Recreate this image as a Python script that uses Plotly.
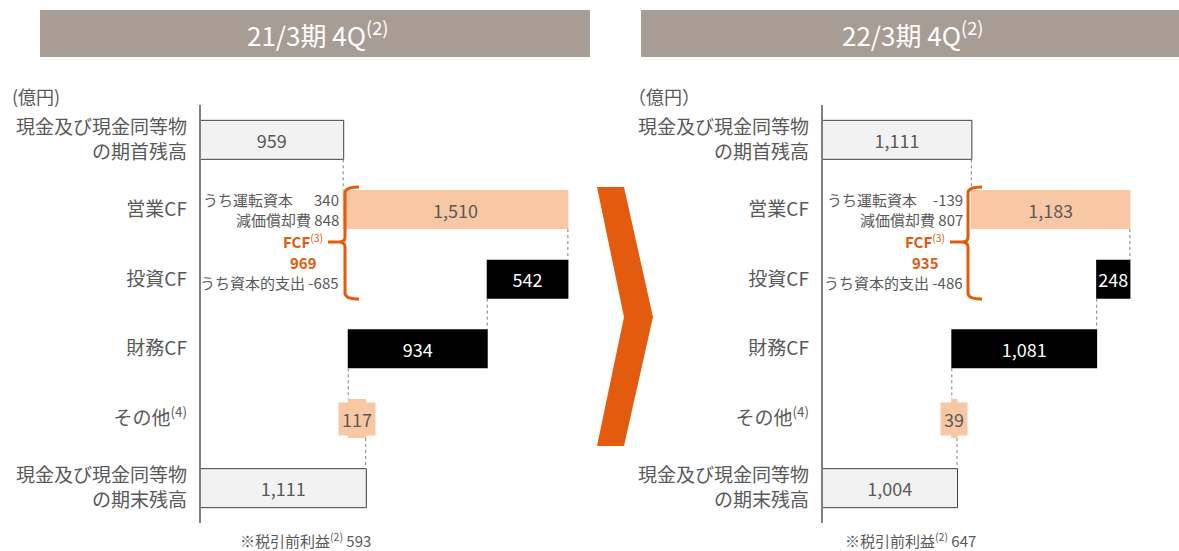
import plotly.graph_objects as go

# ---------------- data ----------------
categories = ["現金及び現金同等物<br>の期首残高", "営業CF", "投資CF", "財務CF",
              "その他<sup>(4)</sup>", "現金及び現金同等物<br>の期末残高"]
measures = ["absolute", "relative", "relative", "relative", "relative", "absolute"]
fy21_values = [959, 1510, -542, -934, 117, 1111]
fy22_values = [1111, 1183, -248, -1081, 39, 1004]
panel_titles = ["21/3期 4Q<sup>(2)</sup>", "22/3期 4Q<sup>(2)</sup>"]
unit_labels = ["(億円)", "（億円）"]
working_capital = [340, -139]
depreciation = [848, 807]
capex = [-685, -486]
fcf = [969, 935]
pretax_profit = [593, 647]

# ---------------- style ----------------
W, H = 1179, 551
FONT = "Noto Sans CJK JP, Noto Sans, sans-serif"
GRAY = "#595959"
PEACH = "#F8C8A4"
ORANGE = "#E35B0E"
HEADER = "#A89D95"


def PX(x):
    return x / W


def PY(y):
    return 1 - y / H


fig = go.Figure()
annos = []
shapes = []

panels = [
    dict(vals=fy21_values, xa="x", ya="y"),
    dict(vals=fy22_values, xa="x2", ya="y2"),
]

text_colors = [GRAY, GRAY, "white", "white", GRAY, GRAY]

for i, p in enumerate(panels):
    vals = p["vals"]
    labels = [f"{abs(v):,}" for v in vals]
    labels[4] = ""  # その他 label drawn as boxed annotation
    fig.add_trace(go.Waterfall(
        orientation="h", y=categories, x=vals, measure=measures,
        text=labels, textinfo="text", textposition="inside",
        insidetextanchor="middle", textangle=0, constraintext="none",
        insidetextfont=dict(color=text_colors, size=18, family=FONT),
        increasing=dict(marker=dict(color=PEACH, line=dict(width=0))),
        decreasing=dict(marker=dict(color="black", line=dict(width=0))),
        totals=dict(marker=dict(color="#F2F2F2", line=dict(color="#404040", width=1))),
        connector=dict(mode="between", line=dict(color="#7F7F7F", width=1, dash="dot")),
        xaxis=p["xa"], yaxis=p["ya"], hoverinfo="skip", showlegend=False,
    ))
    # boxed label for その他
    start = sum(vals[:4])
    annos.append(dict(
        x=start + vals[4] / 2, y=categories[4], xref=p["xa"], yref=p["ya"],
        xanchor="center", yanchor="middle",
        text=f"{vals[4]:,}", showarrow=False, bgcolor=PEACH, borderpad=3,
        font=dict(size=18, color=GRAY, family=FONT),
    ))

axis_common_y = dict(
    type="category", categoryorder="array", categoryarray=categories,
    range=[5.5, -0.5], domain=[PY(523), PY(105)], showline=True,
    linecolor="#7F7F7F", linewidth=1.5, ticks="", showgrid=False,
    tickfont=dict(size=19, color=GRAY, family=FONT), ticklabelstandoff=8,
    zeroline=False,
)

fig.update_layout(
    width=W, height=H, margin=dict(l=0, r=0, t=0, b=0),
    paper_bgcolor="white", plot_bgcolor="white",
    font=dict(family=FONT, color=GRAY),
    waterfallgap=0.44,
    xaxis=dict(domain=[PX(200.5), PX(590)], range=[0, (590 - 200.5) / 0.1488],
               visible=False, anchor="y"),
    xaxis2=dict(domain=[PX(822.5), PX(1179)], range=[0, (1179 - 822.5) / 0.134],
                visible=False, anchor="y2"),
    yaxis=dict(anchor="x", **axis_common_y),
    yaxis2=dict(anchor="x2", **axis_common_y),
)


def note(x, y, text, font, xanchor="center", **kw):
    d = dict(x=PX(x), y=PY(y), xref="paper", yref="paper", xanchor=xanchor,
             yanchor="middle", text=text, showarrow=False, font=font)
    d.update(kw)
    annos.append(d)


# header boxes
for (bx0, bx1), title in zip([(40, 590), (641, 1179)], panel_titles):
    shapes.append(dict(type="rect", xref="paper", yref="paper", x0=PX(bx0), x1=PX(bx1),
                       y0=PY(57), y1=PY(10), fillcolor=HEADER, line=dict(width=0), layer="below"))
    note((bx0 + bx1) / 2 + 2, 34, title, dict(size=26, color="white", family=FONT))

# unit labels
for ux, ut in zip([10, 626], unit_labels):
    note(ux, 96, ut, dict(size=18, color=GRAY, family=FONT), xanchor="left")

# FCF breakdown annotations and braces
sub_cfg = [dict(left=201, right=341, brace=345, fcf_c=303),
           dict(left=825, right=965, brace=968, fcf_c=925)]
for i, c in enumerate(sub_cfg):
    f = dict(size=15, color=GRAY, family=FONT)
    note(c["left"], 199, "うち運転資本", f, xanchor="left")
    note(c["right"], 199, f"{working_capital[i]:,}", f, xanchor="right")
    note(c["right"], 220, f"減価償却費 {depreciation[i]:,}", f, xanchor="right")
    note(c["right"], 282, f"うち資本的支出 {capex[i]:,}", f, xanchor="right")
    fo = dict(size=15, color=ORANGE, family=FONT)
    note(c["fcf_c"], 241, "<b>FCF</b><sup>(3)</sup>", fo)
    note(c["fcf_c"], 262, f"<b>{fcf[i]:,}</b>", fo)
    # brace
    x0 = c["brace"]
    yt, ym, yb = 187, 242, 299
    hk = 14
    pts = [
        f"M {PX(x0 + hk)},{PY(yt)}",
        f"Q {PX(x0)},{PY(yt)} {PX(x0)},{PY(yt + 6)}",
        f"L {PX(x0)},{PY(ym - 5)}",
        f"Q {PX(x0)},{PY(ym)} {PX(x0 - 6)},{PY(ym)}",
        f"Q {PX(x0)},{PY(ym)} {PX(x0)},{PY(ym + 5)}",
        f"L {PX(x0)},{PY(yb - 6)}",
        f"Q {PX(x0)},{PY(yb)} {PX(x0 + hk)},{PY(yb)}",
    ]
    shapes.append(dict(type="path", xref="paper", yref="paper", path=" ".join(pts),
                       line=dict(color=ORANGE, width=3)))
    shapes.append(dict(type="line", xref="paper", yref="paper", x0=PX(c["fcf_c"] + 25),
                       x1=PX(x0 - 6), y0=PY(ym), y1=PY(ym), line=dict(color=ORANGE, width=3)))
    # bottom note
    note([305, 910][i], 540, f"※税引前利益<sup>(2)</sup> {pretax_profit[i]:,}",
         dict(size=15, color=GRAY, family=FONT))

# chevron arrow between panels
chev = [(597, 187), (624, 187), (653, 317), (624, 446), (597, 446), (624, 317)]
path = "M " + " L ".join(f"{PX(x)},{PY(y)}" for x, y in chev) + " Z"
shapes.append(dict(type="path", xref="paper", yref="paper", path=path,
                   fillcolor=ORANGE, line=dict(width=0)))

fig.layout.shapes = shapes
fig.layout.annotations = annos
fig.write_html("out.html", config={"displayModeBar": False},
               post_script="document.body.style.margin='0';")
